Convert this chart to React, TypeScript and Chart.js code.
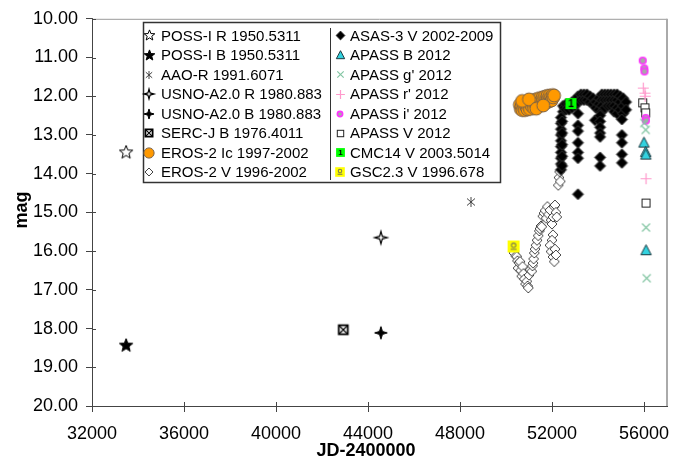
import React, { useEffect, useRef } from 'react';
import { Chart, registerables } from 'chart.js';
Chart.register(...registerables);

const FONT = '"Liberation Sans", Arial, Helvetica, sans-serif';

// ---- single-epoch catalogue points (JD-2400000, mag) ----
const possRJD = [33481];
const possRMag = [13.45];
const possBJD = [33481];
const possBMag = [18.44];
const aaoJD = [48478];
const aaoMag = [14.73];
const usnoRJD = [44562];
const usnoRMag = [15.65];
const usnoBJD = [44562];
const usnoBMag = [18.11];
const sercJD = [42925];
const sercMag = [18.03];
const cmcJD = [52824];
const cmcMag = [12.19];
const gscJD = [50331];
const gscMag = [15.88];

// ---- EROS-2 Ic ----
const erosIcJD = [50600, 50642, 50673, 50710, 50746, 50784, 50819, 50859, 50891, 50934, 50964, 51001, 51037, 51076, 51109, 51151, 51182, 51218, 51255, 51301, 51327, 51368, 51400, 51443, 51473, 51510, 51545, 51594, 51618, 51652, 51691, 51744, 51777, 51802, 51836, 51878, 51908, 51944, 51980, 52028, 52053, 52090, 50700, 51000, 51320, 51620];
const erosIcMag = [12.22, 12.33, 12.26, 12.36, 12.20, 12.30, 12.36, 12.16, 12.28, 12.34, 12.15, 12.26, 12.33, 12.14, 12.25, 12.11, 12.22, 12.31, 12.09, 12.20, 12.28, 12.07, 12.16, 12.25, 12.05, 12.13, 12.22, 12.03, 12.10, 12.19, 12.01, 12.08, 12.16, 11.99, 12.06, 12.13, 11.98, 12.04, 12.11, 11.97, 12.03, 11.98, 12.12, 12.08, 12.32, 12.24];

// ---- EROS-2 V ----
const erosVJD = [50350, 50420, 50465, 50500, 50522, 50560, 50609, 50640, 50683, 50720, 50760, 50800, 50850, 50900, 50940, 50970, 51000, 51050, 51117, 51150, 51174, 51200, 51230, 51260, 51300, 51350, 51400, 51450, 51478, 51520, 51552, 51600, 51650, 51700, 51750, 51800, 51850, 51913, 51960, 52000, 52043, 52090, 52130, 52170, 52204, 52043, 52000, 51913, 51960, 52043, 52100, 52130, 52170, 52274, 52300, 52330, 52360];
const erosVMag = [16.05, 16.12, 16.14, 16.25, 16.44, 16.30, 16.27, 16.50, 16.65, 16.40, 16.58, 16.72, 16.85, 16.78, 16.90, 16.95, 16.62, 16.48, 16.52, 16.38, 16.31, 16.20, 16.05, 15.95, 15.85, 15.72, 15.60, 15.48, 15.42, 15.35, 15.37, 15.10, 15.02, 14.95, 15.15, 14.85, 15.05, 14.94, 15.20, 15.30, 15.12, 14.85, 14.81, 15.00, 15.12, 15.58, 15.72, 15.85, 16.01, 16.15, 16.27, 15.95, 16.10, 14.30, 14.10, 13.95, 14.20];

// ---- ASAS-3 V ----
const asasJD = [
  52480, 52480, 52545, 52610, 52610, 52740, 52740, 52870, 52870, 53000, 53000, 53130, 53130, 53260, 53260, 53390, 53390, 53520, 53520, 53650, 53650, 53780, 53780, 53910, 53910,
  54040, 54040, 54040, 54170, 54170, 54170, 54170, 54300, 54300, 54300, 54430, 54430, 54430, 54560, 54560, 54560, 54700, 54700, 54700, 54700, 54830, 54830, 54830, 54830, 54960, 54960, 54960, 55090, 55090, 55090, 55220, 55220,
  52390, 52390, 52390, 52390, 52390, 52390, 52390, 52390, 52390, 52390,
  52440, 52440, 52440, 52440, 52440,
  53130, 53130, 53130, 53130, 53130, 53130, 53130,
  53870,
  54090, 54090, 54090, 54090, 54090, 54090, 54090,
  55040, 55040, 55040, 55040, 55040,
];
const asasMag = [
  12.25, 12.40, 12.30, 12.20, 12.35, 12.20, 12.35, 12.15, 12.30, 12.10, 12.25, 12.00, 12.15, 11.95, 12.10, 11.95, 12.10, 11.95, 12.10, 12.00, 12.15, 12.05, 12.20, 12.15, 12.30,
  12.05, 12.20, 12.35, 11.95, 12.10, 12.25, 12.40, 11.95, 12.10, 12.30, 11.95, 12.10, 12.25, 11.95, 12.10, 12.25, 11.95, 12.10, 12.25, 12.40, 11.95, 12.10, 12.30, 12.45, 12.00, 12.15, 12.35, 12.05, 12.25, 12.45, 12.15, 12.35,
  12.55, 12.70, 12.85, 13.00, 13.15, 13.30, 13.45, 13.60, 13.75, 13.90,
  12.65, 12.95, 13.25, 13.55, 13.80,
  12.45, 12.75, 12.90, 13.20, 13.45, 13.60, 14.53,
  12.62,
  12.50, 12.65, 12.80, 12.95, 13.05, 13.58, 13.80,
  12.60, 13.00, 13.20, 13.50, 13.72,
];

// ---- APASS 2012 ----
const apassBJD = [56000, 56074, 56080, 56087];
const apassBMag = [13.21, 13.45, 13.52, 15.99];
const apassGJD = [56013, 56074, 56087, 56117];
const apassGMag = [12.69, 12.87, 15.39, 16.70];
const apassRJD = [55970, 56043, 56050, 56087];
const apassRMag = [11.79, 11.92, 12.00, 14.13];
const apassIJD = [55943, 56013, 56020, 56074, 56080];
const apassIMag = [11.08, 11.28, 11.36, 12.56, 12.63];
const apassVJD = [55943, 56043, 56074, 56087];
const apassVMag = [12.17, 12.30, 12.43, 14.76];

// ---- axis ticks ----
const xTicks = [32000, 36000, 40000, 44000, 48000, 52000, 56000];
const yTicks = [10, 11, 12, 13, 14, 15, 16, 17, 18, 19, 20];

// ---- marker factory ----
type Drawer = (c: CanvasRenderingContext2D, s: number) => void;
function mk(size: number, draw: Drawer, s: number) {
  const cv = document.createElement('canvas');
  const n = Math.ceil(size * s) + 4;
  cv.width = n;
  cv.height = n;
  const c = cv.getContext('2d')!;
  c.translate(n / 2, n / 2);
  draw(c, s);
  return cv;
}
function starPath(c: CanvasRenderingContext2D, pts: number, R: number, r: number) {
  c.beginPath();
  for (let k = 0; k < pts * 2; k++) {
    const a = (k * Math.PI) / pts - Math.PI / 2;
    const rr = k % 2 === 0 ? R : r;
    const x = Math.cos(a) * rr;
    const y = Math.sin(a) * rr;
    if (k === 0) c.moveTo(x, y);
    else c.lineTo(x, y);
  }
  c.closePath();
}
const drawers: Record<string, [number, Drawer]> = {
  star5open: [16, (c, s) => { starPath(c, 5, 7 * s, 3 * s); c.fillStyle = '#fff'; c.fill(); c.strokeStyle = '#000'; c.lineWidth = 1; c.stroke(); }],
  star5fill: [16, (c, s) => { starPath(c, 5, 7 * s, 3 * s); c.fillStyle = '#000'; c.fill(); c.strokeStyle = '#000'; c.lineWidth = 1; c.stroke(); }],
  asterisk: [12, (c, s) => {
    c.strokeStyle = '#444'; c.lineWidth = 1;
    const R = 5 * s;
    c.beginPath();
    c.moveTo(0, -R); c.lineTo(0, R);
    c.moveTo(-R * 0.8, -R * 0.7); c.lineTo(R * 0.8, R * 0.7);
    c.moveTo(-R * 0.8, R * 0.7); c.lineTo(R * 0.8, -R * 0.7);
    c.stroke();
  }],
  star4open: [14, (c, s) => { starPath(c, 4, 6.3 * s, 1.9 * s); c.fillStyle = '#fff'; c.fill(); c.strokeStyle = '#000'; c.lineWidth = 1.2; c.stroke(); }],
  star4fill: [14, (c, s) => { starPath(c, 4, 6.3 * s, 2.1 * s); c.fillStyle = '#000'; c.fill(); c.strokeStyle = '#000'; c.lineWidth = 1; c.stroke(); }],
  boxX: [12, (c, s) => {
    const h = 4.5 * s;
    c.fillStyle = '#fff'; c.fillRect(-h, -h, 2 * h, 2 * h);
    c.strokeStyle = '#000'; c.lineWidth = 1.8; c.strokeRect(-h, -h, 2 * h, 2 * h);
    c.lineWidth = 1.2; c.beginPath(); c.moveTo(-h, -h); c.lineTo(h, h); c.moveTo(-h, h); c.lineTo(h, -h); c.stroke();
  }],
  orange: [15, (c, s) => { c.beginPath(); c.arc(0, 0, 6.4 * s, 0, Math.PI * 2); c.fillStyle = '#ff9900'; c.fill(); c.strokeStyle = '#7a6248'; c.lineWidth = 1; c.stroke(); }],
  diaOpen: [12, (c, s) => { const R = 5 * s; c.beginPath(); c.moveTo(0, -R); c.lineTo(R, 0); c.lineTo(0, R); c.lineTo(-R, 0); c.closePath(); c.fillStyle = '#fff'; c.fill(); c.strokeStyle = '#444'; c.lineWidth = 1; c.stroke(); }],
  diaFill: [13, (c, s) => { const R = 5.5 * s; c.beginPath(); c.moveTo(0, -R); c.lineTo(R, 0); c.lineTo(0, R); c.lineTo(-R, 0); c.closePath(); c.fillStyle = '#000'; c.fill(); c.strokeStyle = '#333'; c.lineWidth = 1; c.stroke(); }],
  tri: [13, (c, s) => { c.beginPath(); c.moveTo(0, -6 * s); c.lineTo(5.2 * s, 4 * s); c.lineTo(-5.2 * s, 4 * s); c.closePath(); c.fillStyle = '#33d2df'; c.fill(); c.strokeStyle = '#1d3940'; c.lineWidth = 1; c.stroke(); }],
  xmark: [11, (c, s) => { const R = 4 * s; c.strokeStyle = '#84c6a4'; c.lineWidth = 1.2; c.beginPath(); c.moveTo(-R, -R); c.lineTo(R, R); c.moveTo(-R, R); c.lineTo(R, -R); c.stroke(); }],
  plus: [13, (c, s) => { const R = 5.5 * s; c.strokeStyle = '#ff99cc'; c.lineWidth = 1.2; c.beginPath(); c.moveTo(-R, 0); c.lineTo(R, 0); c.moveTo(0, -R); c.lineTo(0, R); c.stroke(); }],
  iCirc: [10, (c, s) => { c.beginPath(); c.arc(0, 0, 3.3 * s, 0, Math.PI * 2); c.fillStyle = '#a8a8a8'; c.fill(); c.strokeStyle = '#ff33ff'; c.lineWidth = 1.6; c.stroke(); }],
  sqOpen: [11, (c, s) => { const h = 4 * s; c.fillStyle = '#fff'; c.fillRect(-h, -h, 2 * h, 2 * h); c.strokeStyle = '#222'; c.lineWidth = 1; c.strokeRect(-h, -h, 2 * h, 2 * h); }],
  cmc: [13, (c, s) => {
    const h = 5.5 * s; c.fillStyle = '#00ff00'; c.fillRect(-h, -h, 2 * h, 2 * h);
    c.fillStyle = '#000'; c.font = `bold ${Math.round(10 * s)}px ${FONT}`; c.textAlign = 'center'; c.textBaseline = 'middle'; c.fillText('1', 0, 0.5);
  }],
  gsc: [14, (c, s) => {
    const h = 6 * s; c.fillStyle = '#ffff00'; c.fillRect(-h, -h, 2 * h, 2 * h);
    c.strokeStyle = '#7c7c52'; c.lineWidth = 1.1; c.beginPath(); c.arc(0, -1.2 * s, 2.2 * s, 0, Math.PI * 2); c.stroke();
    c.beginPath(); c.moveTo(-3 * s, 2.8 * s); c.lineTo(3 * s, 2.8 * s); c.stroke();
  }],
};

const seriesDefs = [
  { label: 'CMC14 V 2003.5014', xs: cmcJD, ys: cmcMag, m: 'cmc' },
  { label: 'GSC2.3 V 1996.678', xs: gscJD, ys: gscMag, m: 'gsc' },
  { label: 'APASS B 2012', xs: apassBJD, ys: apassBMag, m: 'tri' },
  { label: "APASS g' 2012", xs: apassGJD, ys: apassGMag, m: 'xmark' },
  { label: "APASS r' 2012", xs: apassRJD, ys: apassRMag, m: 'plus' },
  { label: "APASS i' 2012", xs: apassIJD, ys: apassIMag, m: 'iCirc' },
  { label: 'APASS V 2012', xs: apassVJD, ys: apassVMag, m: 'sqOpen' },
  { label: 'POSS-I R 1950.5311', xs: possRJD, ys: possRMag, m: 'star5open' },
  { label: 'POSS-I B 1950.5311', xs: possBJD, ys: possBMag, m: 'star5fill' },
  { label: 'AAO-R 1991.6071', xs: aaoJD, ys: aaoMag, m: 'asterisk' },
  { label: 'USNO-A2.0 R 1980.883', xs: usnoRJD, ys: usnoRMag, m: 'star4open' },
  { label: 'USNO-A2.0 B 1980.883', xs: usnoBJD, ys: usnoBMag, m: 'star4fill' },
  { label: 'SERC-J B 1976.4011', xs: sercJD, ys: sercMag, m: 'boxX' },
  { label: 'EROS-2 Ic 1997-2002', xs: erosIcJD, ys: erosIcMag, m: 'orange' },
  { label: 'ASAS-3 V 2002-2009', xs: asasJD, ys: asasMag, m: 'diaFill' },
  { label: 'EROS-2 V 1996-2002', xs: erosVJD, ys: erosVMag, m: 'diaOpen' },
];

const legendLeft = ['POSS-I R 1950.5311', 'POSS-I B 1950.5311', 'AAO-R 1991.6071', 'USNO-A2.0 R 1980.883', 'USNO-A2.0 B 1980.883', 'SERC-J B 1976.4011', 'EROS-2 Ic 1997-2002', 'EROS-2 V 1996-2002'];
const legendRight = ['ASAS-3 V 2002-2009', 'APASS B 2012', "APASS g' 2012", "APASS r' 2012", "APASS i' 2012", 'APASS V 2012', 'CMC14 V 2003.5014', 'GSC2.3 V 1996.678'];

export default function App() {
  const ref = useRef<HTMLCanvasElement>(null);
  useEffect(() => {
    document.body.style.margin = '0';
    const markers: Record<string, HTMLCanvasElement> = {};
    const legendMarkers: Record<string, HTMLCanvasElement> = {};
    for (const k of Object.keys(drawers)) {
      markers[k] = mk(drawers[k][0], drawers[k][1], 1);
      legendMarkers[k] = mk(drawers[k][0], drawers[k][1], 0.8);
    }
    const markerOf: Record<string, string> = {};
    seriesDefs.forEach((d) => (markerOf[d.label] = d.m));

    const datasets = seriesDefs.map((d) => ({
      label: d.label,
      data: d.xs.map((x, i) => ({ x, y: d.ys[i] })),
      pointStyle: markers[d.m],
      pointRadius: 5,
      pointHoverRadius: 5,
      showLine: false,
    }));

    const decor = {
      id: 'decor',
      afterDraw(chart: any) {
        const { ctx, chartArea: a, scales } = chart;
        ctx.save();
        // top / right frame
        ctx.strokeStyle = '#9a9a9a';
        ctx.lineWidth = 1;
        ctx.beginPath();
        ctx.moveTo(a.left, a.top + 0.5);
        ctx.lineTo(a.right, a.top + 0.5);
        ctx.stroke();
        ctx.strokeStyle = '#aaaaaa';
        ctx.lineWidth = 2;
        ctx.beginPath();
        ctx.moveTo(a.right, a.top);
        ctx.lineTo(a.right, a.bottom);
        ctx.stroke();
        // inner tick marks
        ctx.strokeStyle = '#444';
        ctx.lineWidth = 1;
        ctx.beginPath();
        for (const v of yTicks) {
          const y = Math.round(scales.y.getPixelForValue(v)) + 0.5;
          ctx.moveTo(a.left, y);
          ctx.lineTo(a.left + 4, y);
        }
        for (const v of xTicks) {
          const x = Math.round(scales.x.getPixelForValue(v)) + 0.5;
          ctx.moveTo(x, a.bottom);
          ctx.lineTo(x, a.bottom - 4);
        }
        ctx.stroke();
        // axis titles
        ctx.fillStyle = '#000';
        ctx.font = `bold 18px ${FONT}`;
        ctx.textAlign = 'center';
        ctx.textBaseline = 'middle';
        ctx.fillText('JD-2400000', 366, 451);
        ctx.save();
        ctx.translate(22, 210);
        ctx.rotate(-Math.PI / 2);
        ctx.fillText('mag', 0, 0);
        ctx.restore();
        // legend box
        const L = 143, T = 22, R = 501, B = 183;
        ctx.fillStyle = '#fff';
        ctx.fillRect(L, T, R - L, B - T);
        ctx.strokeStyle = '#333';
        ctx.lineWidth = 1.5;
        ctx.strokeRect(L + 0.5, T + 0.5, R - L - 1, B - T - 1);
        ctx.lineWidth = 1;
        ctx.beginPath();
        ctx.moveTo(330.5, 28);
        ctx.lineTo(330.5, 180);
        ctx.stroke();
        ctx.font = `15px ${FONT}`;
        ctx.textAlign = 'left';
        ctx.textBaseline = 'middle';
        ctx.fillStyle = '#000';
        const cols: [string[], number, number][] = [[legendLeft, 149, 161], [legendRight, 340, 350]];
        for (const [items, sx, tx] of cols) {
          items.forEach((lab, i) => {
            const y = 35.5 + i * 19.5;
            const img = legendMarkers[markerOf[lab]];
            ctx.drawImage(img, Math.round(sx - img.width / 2), Math.round(y - img.height / 2));
            ctx.fillText(lab, tx, y + 1);
          });
        }
        ctx.restore();
      },
    };

    const chart = new Chart(ref.current!, {
      type: 'scatter',
      data: { datasets } as any,
      options: {
        animation: false,
        responsive: false,
        maintainAspectRatio: false,
        events: [],
        layout: { padding: { top: 15, right: 26, left: 0, bottom: 0 } },
        plugins: { legend: { display: false }, tooltip: { enabled: false } },
        scales: {
          x: {
            type: 'linear',
            min: 32000,
            max: 57000,
            afterBuildTicks: (s: any) => { s.ticks = xTicks.map((v) => ({ value: v })); },
            afterFit: (s: any) => { s.height = 56; },
            ticks: { color: '#000', font: { family: FONT, size: 18 }, padding: 11, maxRotation: 0, autoSkip: false, callback: (v: any) => String(v) },
            grid: { drawOnChartArea: false, drawTicks: true, tickLength: 6, color: '#444' },
            border: { color: '#444', width: 1 },
          },
          y: {
            type: 'linear',
            reverse: true,
            min: 10,
            max: 20,
            afterBuildTicks: (s: any) => { s.ticks = yTicks.map((v) => ({ value: v })); },
            afterFit: (s: any) => { s.width = 92; },
            ticks: { color: '#000', font: { family: FONT, size: 18 }, padding: 8, autoSkip: false, callback: (v: any) => Number(v).toFixed(2) },
            grid: { drawOnChartArea: false, drawTicks: true, tickLength: 6, color: '#444' },
            border: { color: '#444', width: 1 },
          },
        },
      } as any,
      plugins: [decor],
    });
    return () => chart.destroy();
  }, []);
  return (
    <div style={{ position: 'absolute', left: 0, top: 0, width: 693, height: 462, background: '#fff' }}>
      <canvas ref={ref} width={693} height={462} style={{ width: 693, height: 462, display: 'block' }} />
    </div>
  );
}
